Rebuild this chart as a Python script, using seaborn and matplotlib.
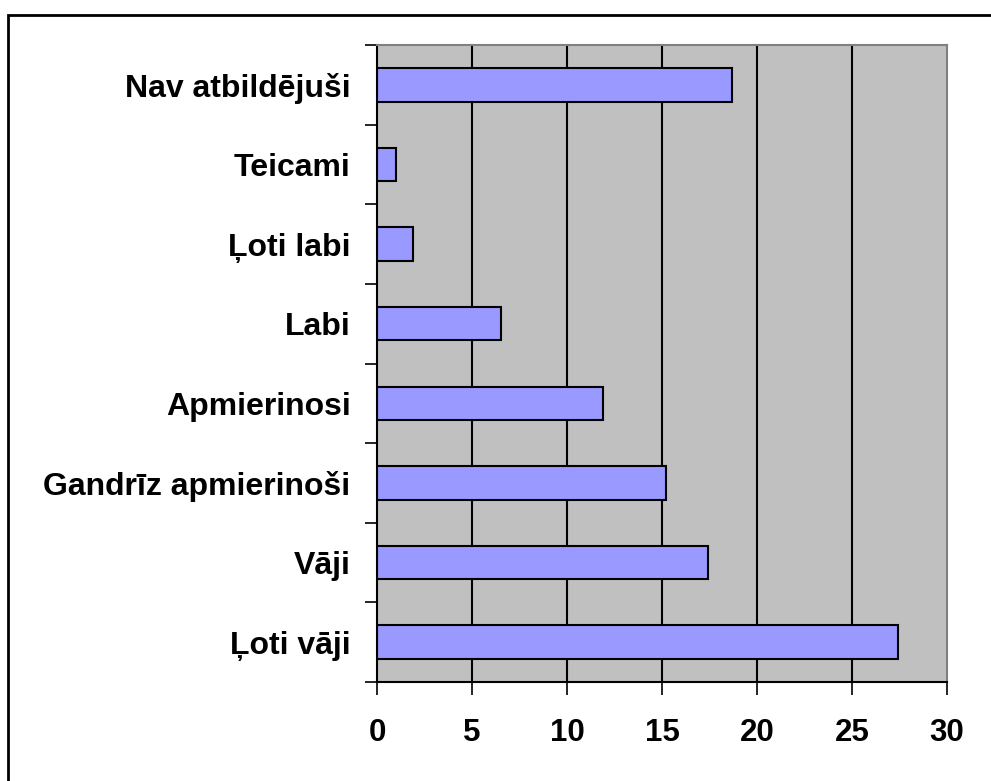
import matplotlib
matplotlib.use("Agg")
import matplotlib.pyplot as plt
from matplotlib.patches import Rectangle
import seaborn as sns
import pandas as pd
import numpy as np

categories = [
    "Nav atbildējuši",
    "Teicami",
    "Ļoti labi",
    "Labi",
    "Apmierinosi",
    "Gandrīz apmierinoši",
    "Vāji",
    "Ļoti vāji",
]
values = [18.7, 1.0, 1.9, 6.5, 11.9, 15.2, 17.4, 27.4]
x_ticks = [0, 5, 10, 15, 20, 25, 30]

sns.set_theme(style="white")
plt.rcParams["font.family"] = ["Liberation Sans", "DejaVu Sans"]
plt.rcParams["text.color"] = "black"

df = pd.DataFrame({"category": categories, "value": values})

fig = plt.figure(figsize=(9.91, 7.81), dpi=100)
ax = fig.add_axes([377 / 991, 1 - 682 / 781, 570 / 991, 637 / 781])

sns.barplot(data=df, x="value", y="category", order=categories, orient="h",
            color="#9999FF", saturation=1, width=0.42,
            edgecolor="black", linewidth=1.5, ax=ax)

ax.set_facecolor("#C0C0C0")
ax.set_xlim(0, 30)
ax.set_ylim(len(categories) - 0.5, -0.5)
ax.set_xlabel("")
ax.set_ylabel("")

# vertical gridlines behind bars
ax.set_axisbelow(True)
for v in x_ticks[1:-1]:
    ax.axvline(v, color="black", lw=1.5, zorder=0.5)

ax.set_xticks(x_ticks)
ax.set_xticklabels([str(t) for t in x_ticks], fontsize=22.5, fontweight="bold", color="black")
ax.tick_params(axis="x", direction="out", length=9, width=1.2, color="black", pad=17, bottom=True)

ax.set_yticks(range(len(categories)))
ax.set_yticklabels(categories, fontsize=23, fontweight="bold", color="black")
ax.set_yticks(np.arange(-0.5, len(categories)), minor=True)
ax.tick_params(axis="y", which="major", length=0, pad=19)
ax.tick_params(axis="y", which="minor", direction="out", length=9, width=1.2, color="black", left=True)

for side in ["left", "bottom"]:
    ax.spines[side].set_color("black")
    ax.spines[side].set_linewidth(1.5)
for side in ["top", "right"]:
    ax.spines[side].set_color("#808080")
    ax.spines[side].set_linewidth(1.5)

# outer chart frame (open on right/bottom, cut by image edge)
fig.patches.append(Rectangle((8 / 991, -0.1), 1.2, 1 - 15 / 781 + 0.1,
                             transform=fig.transFigure, fill=False,
                             edgecolor="black", lw=2, zorder=10))

fig.savefig("out.png", dpi=100, facecolor="white")
